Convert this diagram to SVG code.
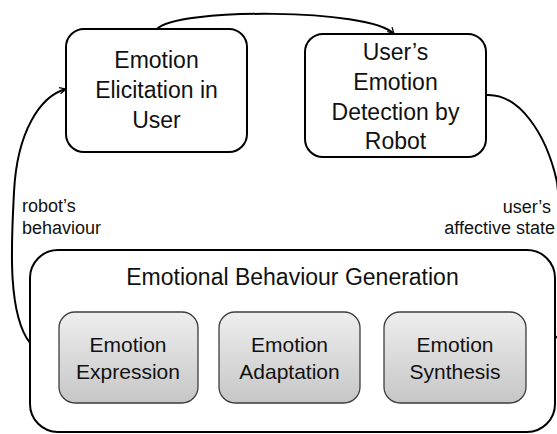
<svg xmlns="http://www.w3.org/2000/svg" width="557" height="434" viewBox="0 0 557 434">
<style>
  .box{fill:#fff;stroke:#000;stroke-width:2}
  .inner{stroke:#3c3c3c;stroke-width:1.3;fill:url(#g)}
  .conn{fill:none;stroke:#000;stroke-width:2}
  text{font-family:"Liberation Sans",Arial,sans-serif;fill:#111;text-anchor:middle}
  .t23{font-size:23px}
  .t21{font-size:21px}
  .lbl{font-size:18px}
</style>
<defs>
  <linearGradient id="g" x1="0" y1="0" x2="0" y2="1">
    <stop offset="0" stop-color="#eeeeee"/>
    <stop offset="1" stop-color="#c6c6c6"/>
  </linearGradient>
  <marker id="arr" viewBox="0 0 10 10" refX="9" refY="5" markerWidth="8" markerHeight="8" markerUnits="userSpaceOnUse" orient="auto">
    <path d="M1,1 L9,5 L1,9" fill="none" stroke="#000" stroke-width="1.6"/>
  </marker>
</defs>
<g id="connectors">
  <path class="conn" d="M157,29 C175,8 370,8 394,34" marker-end="url(#arr)"/>
  <path class="conn" d="M30,343 C6,312 12,235 14,192 C17,132 40,96 66,89" marker-end="url(#arr)"/>
  <path class="conn" d="M486,95 C518,93 546,132 557,182 L570,300 C566,325 560,336 555,338"/>
</g>
<g id="emotion-elicitation">
  <rect class="box" x="66" y="29" width="181" height="123" rx="18"/>
  <text class="t23" x="156.5" y="68">Emotion</text>
  <text class="t23" x="156.5" y="98">Elicitation in</text>
  <text class="t23" x="156.5" y="128">User</text>
</g>
<g id="emotion-detection">
  <rect class="box" x="305" y="34" width="181" height="123" rx="18"/>
  <text class="t23" x="395.5" y="60">User’s</text>
  <text class="t23" x="395.5" y="90">Emotion</text>
  <text class="t23" x="395.5" y="120">Detection by</text>
  <text class="t23" x="395.5" y="149">Robot</text>
</g>
<g id="label-robot">
  <text class="lbl" x="22" y="212" style="text-anchor:start">robot’s</text>
  <text class="lbl" x="22" y="234" style="text-anchor:start">behaviour</text>
</g>
<g id="label-user">
  <text class="lbl" x="551" y="213" style="text-anchor:end">user’s</text>
  <text class="lbl" x="555" y="234" style="text-anchor:end">affective state</text>
</g>
<g id="behaviour-generation">
  <rect class="box" x="30" y="250" width="525" height="182" rx="28"/>
  <text class="t23" x="292.5" y="285">Emotional Behaviour Generation</text>
</g>
<g id="emotion-expression">
  <rect class="inner" x="59" y="312" width="139" height="91" rx="16"/>
  <text class="t21" x="128" y="352">Emotion</text>
  <text class="t21" x="128" y="379">Expression</text>
</g>
<g id="emotion-adaptation">
  <rect class="inner" x="219" y="312" width="141" height="91" rx="16"/>
  <text class="t21" x="289.5" y="352">Emotion</text>
  <text class="t21" x="289.5" y="379">Adaptation</text>
</g>
<g id="emotion-synthesis">
  <rect class="inner" x="384" y="312" width="142" height="91" rx="16"/>
  <text class="t21" x="455" y="352">Emotion</text>
  <text class="t21" x="455" y="379">Synthesis</text>
</g>
</svg>
